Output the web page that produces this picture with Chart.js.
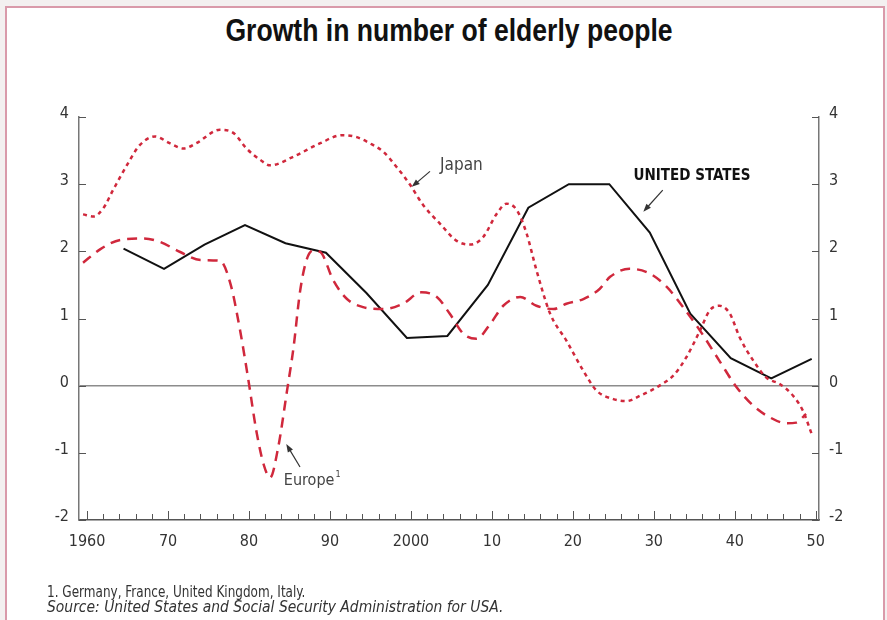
<!DOCTYPE html>
<html>
<head>
<meta charset="utf-8">
<title>Growth in number of elderly people</title>
<script src="https://cdn.jsdelivr.net/npm/chart.js@4.4.0/dist/chart.umd.min.js"></script>
<style>
  html, body { margin: 0; padding: 0; background: #f3f0f0; }
  #frame {
    position: absolute; left: 5px; top: 6px; width: 880px; height: 620px;
    background: #fff; border: 2px solid #d99aaa; border-bottom: none; box-sizing: border-box;
  }
  #title {
    position: absolute; left: 0; top: 12px; width: 898px; text-align: center;
    font: bold 32px 'Liberation Sans', Arial, sans-serif; color: #111;
    transform: scaleX(0.83); transform-origin: 449px 0;
  }
  #chart { position: absolute; left: 0; top: 0; }
  .note {
    position: absolute; left: 47px; white-space: nowrap;
    font: 15px 'DejaVu Sans Condensed', sans-serif; color: #333;
    transform-origin: 0 0;
  }
</style>
</head>
<body>
<div id="frame"></div>
<div id="title">Growth in number of elderly people</div>
<canvas id="chart" width="887" height="620"></canvas>
<div class="note" style="top:583px; transform:scaleX(0.893)">1. Germany, France, United Kingdom, Italy.</div>
<div class="note" style="top:598px; transform:scaleX(1.03)"><i>Source: United States and Social Security Administration for USA.</i></div>

<script>
// annual growth, per cent
var usYears = [1964.5, 1969.5, 1974.5, 1979.5, 1984.5, 1989.5, 1994.5, 1999.5, 2004.5,
               2009.5, 2014.5, 2019.5, 2024.5, 2029.5, 2034.5, 2039.5, 2044.5, 2049.5];
var usValues = [2.04, 1.74, 2.1, 2.39, 2.12, 1.98, 1.38, 0.71, 0.74,
                1.5, 2.65, 3.0, 3.0, 2.28, 1.07, 0.41, 0.11, 0.40];

var japanYears = [1959.5, 1960.8, 1962, 1963.2, 1964.9, 1966.5, 1968.4, 1970.2, 1971.9, 1973.5,
                  1976.4, 1978.1, 1979.7, 1981.4, 1982.6, 1985.5, 1988.8, 1991.5, 1993.3, 1994.9,
                  1996.6, 1998.2, 1999.9, 2001.5, 2003.6, 2005.6, 2007.3, 2008.9, 2010.6, 2011.8,
                  2013.1, 2014.3, 2015.5, 2017.2, 2019.2, 2021.3, 2022.9, 2025, 2026.6, 2028.3,
                  2030.7, 2032.4, 2034, 2035.7, 2036.9, 2038.1, 2039.4, 2040.6, 2042.3, 2043.9,
                  2045.6, 2047.2, 2048.4, 2049.5];
var japanValues = [2.55, 2.52, 2.64, 2.91, 3.28, 3.58, 3.71, 3.61, 3.53, 3.61,
                   3.81, 3.76, 3.53, 3.36, 3.28, 3.41, 3.61, 3.73, 3.70, 3.61,
                   3.48, 3.26, 2.99, 2.69, 2.41, 2.16, 2.10, 2.21, 2.56, 2.71,
                   2.61, 2.26, 1.72, 1.07, 0.67, 0.22, -0.07, -0.2, -0.23, -0.15,
                   0.0, 0.15, 0.42, 0.82, 1.12, 1.19, 1.07, 0.72, 0.37, 0.12,
                   0.02, -0.15, -0.37, -0.72];

var europeYears = [1959.5, 1961.6, 1964.1, 1967, 1969, 1971.5, 1974, 1976.4, 1977.7, 1978.9,
                   1979.9, 1980.9, 1981.8, 1982.6, 1983.6, 1984.7, 1985.5, 1986.3, 1987.1, 1987.9,
                   1988.8, 1990.4, 1992.1, 1994.1, 1996.6, 1999, 2001.3, 2003.2, 2004.8, 2006.5,
                   2008.1, 2009.8, 2011.4, 2013.5, 2015.5, 2017.6, 2019.2, 2021.3, 2023.3, 2024.6,
                   2027, 2029.5, 2031.6, 2033.6, 2035.7, 2038.1, 2040.2, 2042.3, 2044.3, 2046.4,
                   2047.6, 2048.8];
var europeValues = [1.83, 2.03, 2.17, 2.19, 2.14, 1.99, 1.87, 1.86, 1.52, 0.82,
                    0.1, -0.67, -1.17, -1.37, -0.92, -0.07, 0.57, 1.4, 1.87, 2.01,
                    1.99, 1.57, 1.29, 1.17, 1.14, 1.22, 1.39, 1.32, 1.07, 0.77,
                    0.70, 0.92, 1.19, 1.32, 1.19, 1.14, 1.22, 1.29, 1.44, 1.62,
                    1.74, 1.67, 1.47, 1.17, 0.82, 0.37, -0.02, -0.30, -0.47, -0.56,
                    -0.55, -0.42];

var decadeTicks = [1960, 1970, 1980, 1990, 2000, 2010, 2020, 2030, 2040, 2050];
var decadeLabels = ['1960', '70', '80', '90', '2000', '10', '20', '30', '40', '50'];
var yTicks = [-2, -1, 0, 1, 2, 3, 4];

var narrow = "'DejaVu Sans Condensed', sans-serif";
var red = '#d0283c';

function pairs(xs, ys) {
  return xs.map(function (x, i) { return { x: x, y: ys[i] }; });
}

// labels with arrows, placed in data units
var callouts = [
  { text: 'Japan', at: [2003.6, 3.28], font: '17px ' + narrow, color: '#444',
    from: [2002.35, 3.19], to: [2000.1, 2.96] },
  { text: 'UNITED STATES', at: [2027.5, 3.12], font: 'bold 15px ' + narrow, color: '#111',
    from: [2031.1, 2.91], to: [2028.7, 2.59] },
  { text: 'Europe', sup: '1', at: [1984.3, -1.42], font: '16px ' + narrow, color: '#444',
    from: [1986.3, -1.21], to: [1984.6, -0.87] }
];

function arrow(ctx, x1, y1, x2, y2) {
  var a = Math.atan2(y2 - y1, x2 - x1);
  ctx.beginPath();
  ctx.moveTo(x1, y1);
  ctx.lineTo(x2 - 5 * Math.cos(a), y2 - 5 * Math.sin(a));
  ctx.stroke();
  ctx.beginPath();
  ctx.moveTo(x2, y2);
  ctx.lineTo(x2 - 8 * Math.cos(a) + 3 * Math.sin(a), y2 - 8 * Math.sin(a) - 3 * Math.cos(a));
  ctx.lineTo(x2 - 8 * Math.cos(a) - 3 * Math.sin(a), y2 - 8 * Math.sin(a) + 3 * Math.cos(a));
  ctx.closePath();
  ctx.fill();
}

var axisMarks = {
  id: 'axisMarks',
  afterDatasetsDraw: function (chart) {
    var ctx = chart.ctx;
    var x = chart.scales.x, y = chart.scales.y;
    var area = chart.chartArea;
    ctx.save();
    ctx.strokeStyle = '#555';
    ctx.lineWidth = 1;
    // inward ticks on the year axis, every two years
    for (var yr = 1960; yr <= 2050; yr += 2) {
      var px = Math.round(x.getPixelForValue(yr)) + 0.5;
      var h = yr % 10 === 0 ? 9 : 6;
      ctx.beginPath();
      ctx.moveTo(px, area.bottom);
      ctx.lineTo(px, area.bottom - h);
      ctx.stroke();
    }
    // inward ticks on both value axes
    yTicks.forEach(function (v) {
      var py = Math.round(y.getPixelForValue(v)) + 0.5;
      ctx.beginPath();
      ctx.moveTo(area.left, py);
      ctx.lineTo(area.left + 7, py);
      ctx.moveTo(area.right - 7, py);
      ctx.lineTo(area.right, py);
      ctx.stroke();
    });

    // callouts
    callouts.forEach(function (c) {
      ctx.font = c.font;
      ctx.fillStyle = c.color;
      ctx.textBaseline = 'middle';
      ctx.textAlign = 'left';
      var tx = x.getPixelForValue(c.at[0]);
      var ty = y.getPixelForValue(c.at[1]);
      ctx.fillText(c.text, tx, ty);
      if (c.sup) {
        var w = ctx.measureText(c.text).width;
        ctx.font = '9px ' + narrow;
        ctx.fillText(c.sup, tx + w + 1, ty - 6);
      }
      ctx.strokeStyle = '#333';
      ctx.fillStyle = '#333';
      ctx.lineWidth = 1.2;
      arrow(ctx, x.getPixelForValue(c.from[0]), y.getPixelForValue(c.from[1]),
            x.getPixelForValue(c.to[0]), y.getPixelForValue(c.to[1]));
    });
    ctx.restore();
  }
};

new Chart(document.getElementById('chart'), {
  type: 'line',
  data: {
    datasets: [
      {
        label: 'Japan',
        data: pairs(japanYears, japanValues),
        borderColor: red,
        borderWidth: 2.5,
        borderDash: [4, 4],
        cubicInterpolationMode: 'monotone',
        pointRadius: 0,
        yAxisID: 'y'
      },
      {
        label: 'Europe',
        data: pairs(europeYears, europeValues),
        borderColor: red,
        borderWidth: 2.5,
        borderDash: [10, 7],
        cubicInterpolationMode: 'monotone',
        pointRadius: 0,
        yAxisID: 'y'
      },
      {
        label: 'United States',
        data: pairs(usYears, usValues),
        borderColor: '#111',
        borderWidth: 2,
        tension: 0,
        pointRadius: 0,
        yAxisID: 'y'
      }
    ]
  },
  options: {
    responsive: false,
    animation: false,
    layout: { padding: { top: 117, left: 0, right: 0, bottom: 0 } },
    plugins: {
      legend: { display: false },
      tooltip: { enabled: false }
    },
    scales: {
      x: {
        type: 'linear',
        min: 1959,
        max: 2050.4,
        afterBuildTicks: function (scale) {
          scale.ticks = decadeTicks.map(function (v) { return { value: v }; });
        },
        afterFit: function (scale) { scale.height = 100; },
        grid: { display: false, drawTicks: false },
        border: { color: '#555', width: 1.5 },
        ticks: {
          autoSkip: false,
          maxRotation: 0,
          padding: 12,
          color: '#333',
          font: { family: narrow, size: 16 },
          callback: function (v, i) { return decadeLabels[i]; }
        }
      },
      y: {
        position: 'left',
        min: -2,
        max: 4,
        afterBuildTicks: function (scale) {
          scale.ticks = yTicks.map(function (v) { return { value: v }; });
        },
        afterFit: function (scale) { scale.width = 79; },
        grid: {
          drawTicks: false,
          lineWidth: 1.5,
          color: function (c) { return c.tick && c.tick.value === 0 ? '#8c8c8c' : 'rgba(0,0,0,0)'; }
        },
        border: { color: '#777', width: 1.5 },
        ticks: {
          padding: 10,
          labelOffset: -3,
          color: '#333',
          font: { family: narrow, size: 16 }
        }
      },
      yRight: {
        position: 'right',
        min: -2,
        max: 4,
        afterBuildTicks: function (scale) {
          scale.ticks = yTicks.map(function (v) { return { value: v }; });
        },
        afterFit: function (scale) { scale.width = 68; },
        grid: { display: false, drawTicks: false },
        border: { color: '#777', width: 1.5 },
        ticks: {
          padding: 10,
          labelOffset: -3,
          color: '#333',
          font: { family: narrow, size: 16 }
        }
      }
    }
  },
  plugins: [axisMarks]
});
</script>
</body>
</html>
